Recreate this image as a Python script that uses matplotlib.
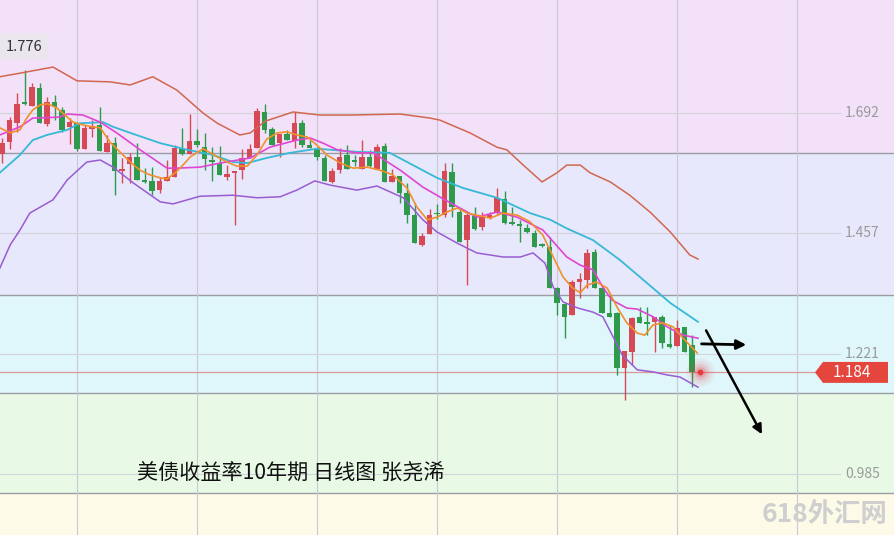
import matplotlib
matplotlib.use('Agg')
import numpy as np
import matplotlib.pyplot as plt
from matplotlib.patches import Polygon
import matplotlib.transforms as mtransforms

plt.rcParams['font.family'] = ['Noto Sans CJK SC', 'DejaVu Sans']

# daily candles, US 10y yield (open, high, low, close)
opens = [1.612, 1.635, 1.672, 1.712, 1.706, 1.741, 1.671, 1.714, 1.698, 1.665,
         1.672, 1.622, 1.661, 1.669, 1.616, 1.633, 1.578, 1.592, 1.606, 1.559,
         1.559, 1.541, 1.559, 1.567, 1.622, 1.612, 1.637, 1.625, 1.600, 1.594,
         1.567, 1.575, 1.580, 1.604, 1.623, 1.694, 1.661, 1.633, 1.651, 1.637,
         1.672, 1.629, 1.622, 1.604, 1.557, 1.580, 1.610, 1.600, 1.582, 1.606,
         1.582, 1.627, 1.557, 1.569, 1.535, 1.492, 1.434, 1.455, 1.496, 1.492,
         1.576, 1.498, 1.443, 1.490, 1.469, 1.486, 1.496, 1.524, 1.479, 1.475,
         1.467, 1.457, 1.434, 1.430, 1.349, 1.318, 1.296, 1.361, 1.365, 1.420,
         1.349, 1.300, 1.300, 1.193, 1.224, 1.293, 1.281, 1.283, 1.293, 1.240,
         1.236, 1.273, 1.238]
highs = [1.643, 1.684, 1.731, 1.776, 1.751, 1.751, 1.723, 1.727, 1.704, 1.682,
         1.674, 1.669, 1.678, 1.704, 1.649, 1.645, 1.604, 1.614, 1.633, 1.584,
         1.586, 1.567, 1.600, 1.629, 1.663, 1.690, 1.661, 1.653, 1.625, 1.627,
         1.590, 1.578, 1.622, 1.631, 1.702, 1.710, 1.665, 1.651, 1.659, 1.694,
         1.678, 1.639, 1.625, 1.610, 1.584, 1.623, 1.629, 1.610, 1.639, 1.620,
         1.631, 1.633, 1.582, 1.569, 1.555, 1.516, 1.457, 1.504, 1.514, 1.594,
         1.594, 1.506, 1.496, 1.508, 1.498, 1.498, 1.545, 1.539, 1.508, 1.483,
         1.475, 1.463, 1.437, 1.449, 1.351, 1.320, 1.365, 1.379, 1.426, 1.426,
         1.351, 1.336, 1.302, 1.226, 1.293, 1.312, 1.312, 1.293, 1.296, 1.277,
         1.287, 1.273, 1.257]
lows = [1.594, 1.622, 1.655, 1.708, 1.706, 1.672, 1.667, 1.678, 1.655, 1.631,
        1.618, 1.622, 1.645, 1.618, 1.616, 1.531, 1.555, 1.555, 1.561, 1.555,
        1.531, 1.535, 1.559, 1.567, 1.610, 1.612, 1.625, 1.580, 1.559, 1.571,
        1.561, 1.473, 1.563, 1.604, 1.623, 1.653, 1.629, 1.606, 1.639, 1.623,
        1.625, 1.623, 1.600, 1.559, 1.555, 1.575, 1.582, 1.588, 1.582, 1.586,
        1.582, 1.557, 1.557, 1.516, 1.477, 1.437, 1.432, 1.455, 1.484, 1.488,
        1.488, 1.439, 1.355, 1.463, 1.463, 1.484, 1.494, 1.475, 1.473, 1.439,
        1.457, 1.430, 1.430, 1.349, 1.296, 1.251, 1.296, 1.330, 1.349, 1.349,
        1.300, 1.293, 1.179, 1.130, 1.199, 1.281, 1.257, 1.224, 1.232, 1.232,
        1.236, 1.224, 1.155]
closes = [1.633, 1.678, 1.710, 1.710, 1.743, 1.672, 1.714, 1.704, 1.659, 1.674,
          1.622, 1.663, 1.667, 1.618, 1.633, 1.578, 1.582, 1.606, 1.561, 1.557,
          1.539, 1.559, 1.567, 1.623, 1.612, 1.637, 1.629, 1.602, 1.596, 1.571,
          1.573, 1.578, 1.604, 1.622, 1.696, 1.659, 1.629, 1.651, 1.639, 1.672,
          1.629, 1.623, 1.606, 1.559, 1.578, 1.606, 1.582, 1.596, 1.606, 1.588,
          1.625, 1.557, 1.569, 1.535, 1.492, 1.437, 1.451, 1.492, 1.494, 1.578,
          1.508, 1.439, 1.492, 1.465, 1.488, 1.492, 1.526, 1.477, 1.475, 1.471,
          1.459, 1.430, 1.432, 1.349, 1.320, 1.293, 1.361, 1.367, 1.418, 1.349,
          1.300, 1.293, 1.193, 1.226, 1.291, 1.281, 1.279, 1.293, 1.242, 1.234,
          1.271, 1.224, 1.184]

# indicator lines (candle index, value)
boll_up_x = [-0.3, 2.4, 6.8, 10.0, 14.4, 17.1, 20.1, 23.3, 26.8, 28.7, 31.7, 33.1,
             35.1, 38.8, 42.4, 46.4, 53.1, 57.1, 58.4, 62.4, 66.0, 67.3, 69.5, 72.0,
             74.0, 75.3, 77.1, 78.4, 81.1, 83.7, 86.4, 89.1, 91.7, 92.8]
boll_up_y = [1.763, 1.770, 1.782, 1.755, 1.753, 1.747, 1.763, 1.737, 1.692, 1.672,
             1.649, 1.653, 1.676, 1.694, 1.688, 1.688, 1.690, 1.682, 1.678, 1.653,
             1.625, 1.620, 1.590, 1.557, 1.575, 1.590, 1.590, 1.575, 1.557, 1.531,
             1.498, 1.459, 1.414, 1.406]
boll_dn_x = [-0.3, 1.1, 2.4, 3.7, 6.8, 8.7, 11.3, 13.1, 14.8, 17.5, 21.1, 22.8,
             26.4, 30.8, 34.0, 37.1, 39.3, 41.7, 43.7, 47.3, 50.0, 53.5, 56.1, 58.0,
             60.7, 63.3, 66.8, 69.1, 70.8, 72.4, 73.5, 74.8, 76.8, 78.8, 80.1, 81.5,
             82.7, 84.7, 86.8, 88.7, 90.4, 92.8]
boll_dn_y = [1.388, 1.434, 1.463, 1.496, 1.522, 1.561, 1.596, 1.600, 1.586, 1.555,
             1.518, 1.514, 1.529, 1.531, 1.526, 1.528, 1.541, 1.559, 1.551, 1.541,
             1.549, 1.526, 1.483, 1.459, 1.437, 1.418, 1.410, 1.410, 1.418, 1.398,
             1.351, 1.322, 1.310, 1.302, 1.293, 1.253, 1.218, 1.189, 1.185, 1.179,
             1.175, 1.155]
ma_cyan_x = [-0.3, 2.4, 4.1, 6.0, 8.7, 10.4, 13.5, 14.8, 17.5, 21.1, 24.7, 28.1,
             30.8, 32.7, 35.3, 38.4, 42.0, 47.3, 51.7, 53.5, 58.0, 61.5, 66.0, 70.4,
             73.1, 75.3, 78.8, 82.4, 86.0, 89.1, 92.8]
ma_cyan_y = [1.575, 1.610, 1.639, 1.649, 1.659, 1.672, 1.674, 1.665, 1.651, 1.633,
             1.620, 1.610, 1.596, 1.594, 1.604, 1.614, 1.622, 1.616, 1.614, 1.600,
             1.565, 1.545, 1.526, 1.496, 1.483, 1.466, 1.443, 1.404, 1.359, 1.320,
             1.283]
ma_mag_x = [-0.3, 2.4, 4.1, 7.7, 8.7, 10.8, 13.1, 15.3, 18.4, 22.0, 23.3, 26.4,
            29.1, 33.1, 35.7, 39.3, 41.1, 42.8, 44.7, 47.3, 49.5, 53.1, 56.1, 58.8,
            63.3, 66.0, 68.7, 72.1, 75.3, 77.1, 78.8, 80.1, 81.3, 83.3, 84.7, 86.8,
            88.7, 90.8, 92.8]
ma_mag_y = [1.649, 1.665, 1.682, 1.684, 1.690, 1.688, 1.674, 1.653, 1.620, 1.584,
            1.584, 1.586, 1.594, 1.604, 1.625, 1.639, 1.643, 1.633, 1.620, 1.614,
            1.614, 1.580, 1.547, 1.524, 1.488, 1.498, 1.488, 1.463, 1.410, 1.394,
            1.385, 1.351, 1.326, 1.310, 1.308, 1.293, 1.273, 1.257, 1.251]
ma_org_x = [-0.3, 1.1, 2.4, 3.3, 4.1, 5.1, 6.1, 7.3, 8.4, 9.5, 10.7, 12.0, 13.1,
            14.4, 15.7, 17.1, 18.4, 19.7, 21.1, 22.0, 23.1, 24.0, 25.1, 26.8, 28.7,
            30.0, 31.3, 32.7, 34.0, 35.3, 36.7, 38.0, 39.3, 40.7, 42.0, 43.3, 45.1,
            46.8, 48.7, 50.4, 52.1, 54.0, 55.3, 56.7, 58.0, 59.3, 60.7, 62.0, 63.3,
            65.1, 66.8, 68.7, 70.4, 72.1, 73.5, 74.8, 76.1, 77.1, 78.0, 79.3, 80.7,
            82.0, 83.3, 84.7, 85.7, 86.8, 88.1, 89.5, 90.8, 92.7]
ma_org_y = [1.663, 1.653, 1.659, 1.682, 1.698, 1.708, 1.710, 1.702, 1.688, 1.674,
            1.669, 1.665, 1.663, 1.635, 1.616, 1.596, 1.580, 1.571, 1.565, 1.563,
            1.575, 1.588, 1.606, 1.622, 1.606, 1.596, 1.588, 1.588, 1.610, 1.641,
            1.653, 1.655, 1.649, 1.645, 1.629, 1.610, 1.594, 1.584, 1.586, 1.580,
            1.571, 1.545, 1.508, 1.483, 1.488, 1.498, 1.506, 1.496, 1.492, 1.486,
            1.496, 1.492, 1.479, 1.453, 1.410, 1.371, 1.349, 1.340, 1.355, 1.361,
            1.349, 1.312, 1.281, 1.261, 1.257, 1.277, 1.281, 1.273, 1.251, 1.222]

zone_edges = [1.614, 1.336, 1.144, 0.948]
zone_colors = ['#f2e1f8', '#e7e8fb', '#dff6fb', '#e8fae5', '#fdfbe8']
price_ticks = [1.692, 1.457, 1.221, 0.985]
vgrid = [10, 26, 42, 58, 74, 90, 106]
last_price = 1.184
max_high = 1.776
arrow_flat = [(92.9, 1.240), (99.6, 1.238)]
arrow_down = [(93.7, 1.271), (101.5, 1.058)]

up_col = '#d64a55'
dn_col = '#2f9a4c'

fig = plt.figure(figsize=(8.94, 5.35), dpi=100)
ax = fig.add_axes([0, 0, 1, 1])
ax.set_xlim(-0.27, 118.93)
ax.set_ylim(0.8656, 1.9133)
ax.axis('off')

# background zones
bounds = [2.0] + zone_edges + [0.0]
for k in range(len(zone_colors)):
    ax.axhspan(bounds[k + 1], bounds[k], color=zone_colors[k], zorder=0, lw=0)
for e in zone_edges:
    ax.axhline(e, color='#9c9ca4', lw=1.0, zorder=1)
for v in vgrid:
    ax.axvline(v, color='#cdc6d6', lw=0.8, zorder=1)
for p in price_ticks:
    ax.axhline(p, xmax=0.94, color='#d3d3dc', lw=0.8, zorder=1)
    ax.text(0.984, p, '%.3f' % p, transform=ax.get_yaxis_transform(),
            ha='right', va='center', fontsize=10, color='#9a9a9a')

# candles
idx = np.arange(len(closes))
o = np.array(opens)
c = np.array(closes)
cols = [up_col if c[i] >= o[i] else dn_col for i in idx]
ax.vlines(idx, lows, highs, colors=cols, lw=1.0, zorder=3)
body_h = np.maximum(np.abs(c - o), 0.003)
ax.bar(idx, body_h, bottom=np.minimum(o, c), width=0.7, color=cols, zorder=4, lw=0)

# indicator lines
ax.plot(boll_up_x, boll_up_y, color='#d2664f', lw=1.1, zorder=5)
ax.plot(boll_dn_x, boll_dn_y, color='#9a5bd3', lw=1.1, zorder=5)
ax.plot(ma_cyan_x, ma_cyan_y, color='#36b9d6', lw=1.3, zorder=5)
ax.plot(ma_mag_x, ma_mag_y, color='#e046d2', lw=1.2, zorder=5)
ax.plot(ma_org_x, ma_org_y, color='#f0902c', lw=1.2, zorder=5)

# last price line and tag
ax.axhline(last_price, xmax=815 / 894, color='#d99a9a', lw=0.9, zorder=2)
trans = mtransforms.blended_transform_factory(ax.transAxes, ax.transData)
hh = 0.0205
tag = Polygon([(815 / 894, last_price), (823 / 894, last_price + hh),
               (888 / 894, last_price + hh), (888 / 894, last_price - hh),
               (823 / 894, last_price - hh)], closed=True,
              transform=trans, facecolor='#e4463d', edgecolor='none', zorder=6)
ax.add_patch(tag)
ax.text(852 / 894, last_price, '%.3f' % last_price, transform=trans,
        ha='center', va='center', fontsize=11, color='white', zorder=7)

# glowing dot at last price
for s, a in [(420, 0.06), (260, 0.08), (140, 0.12), (60, 0.2), (18, 0.9)]:
    ax.scatter([93.1], [last_price], s=s, color='#e8303a', alpha=a, lw=0, zorder=7)

# max label
ax.text(0.027, max_high + 0.046, '%.3f' % max_high, ha='center', va='center',
        transform=trans, fontsize=10.5, color='#333333', zorder=7,
        bbox=dict(boxstyle='square,pad=0.45', fc='#ebe5ed', ec='none'))

# arrows
ax.annotate('', xy=arrow_flat[1], xytext=arrow_flat[0],
            arrowprops=dict(arrowstyle='-|>', color='black', lw=2.0,
                            mutation_scale=14), zorder=8)
ax.annotate('', xy=arrow_down[1], xytext=arrow_down[0],
            arrowprops=dict(arrowstyle='-|>', color='black', lw=1.8,
                            mutation_scale=14), zorder=8)

# caption and watermark
ax.text(291 / 894, 1 - 473 / 535, '美债收益率10年期 日线图 张尧浠', transform=ax.transAxes,
        ha='center', va='center', fontsize=15.2, color='#111111', zorder=8)
ax.text(825 / 894, 1 - 514 / 535, '618外汇网', transform=ax.transAxes,
        ha='center', va='center', fontsize=19, fontweight='bold', color='#cfcfcf',
        zorder=8)

fig.savefig('out.png', dpi=100)
